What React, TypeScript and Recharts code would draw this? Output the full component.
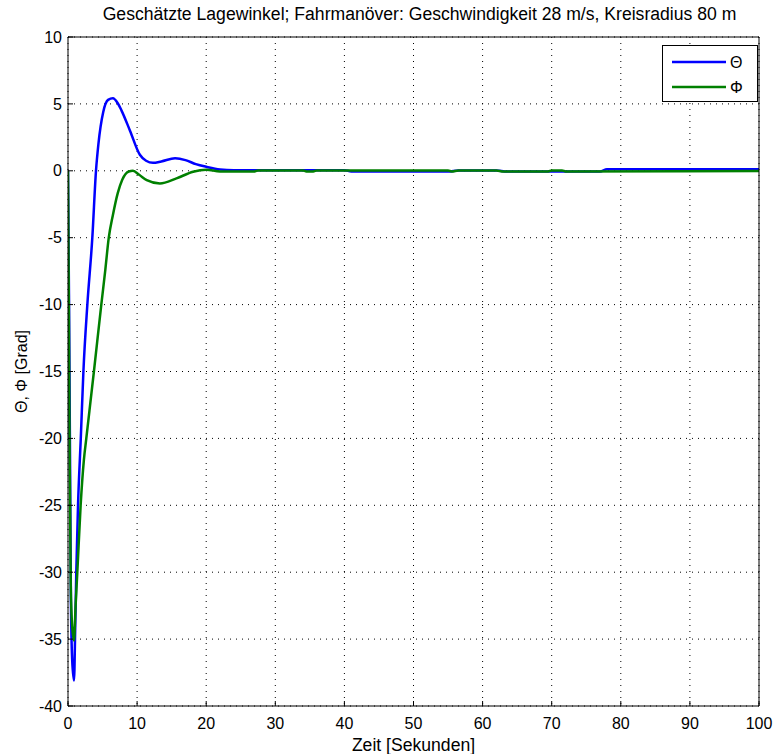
import { CartesianGrid, Label, Legend, Line, LineChart, XAxis, YAxis } from "recharts";

// estimated attitude angles, degrees over seconds
const thetaTime = [
  0, 0.15, 0.3, 0.42, 0.6, 0.87, 1.05, 1.2, 1.45, 1.85, 2.23, 2.8, 3.52, 4.05, 4.4, 5.1, 5.8, 6.5, 7.2, 7.75,
  8.97, 10.4, 11.3, 12.3, 13.5, 15.5, 17, 18.5, 20, 22, 24, 34, 40, 41, 55, 56.5, 62, 63.5, 77, 78, 100
];
const thetaDeg = [
  0, -10, -22, -32, -36.5, -38.1, -34, -30, -25, -20, -15, -10, -5, 0, 2.0, 4.4, 5.3, 5.42, 5.05, 4.5,
  3.0, 1.2, 0.75, 0.6, 0.7, 0.93, 0.8, 0.5, 0.3, 0.1, 0.05, 0.05, 0.05, -0.05, -0.05, 0.03, 0.03, -0.05, -0.05, 0.12, 0.12
];

const phiTime = [
  0, 0.12, 0.25, 0.4, 0.6, 0.87, 1.1, 1.35, 1.83, 2.3, 2.65, 3.75, 4.82, 5.4, 5.9, 6.5, 7.2, 7.85, 8.8, 9.4,
  10.3, 11.4, 13.3, 15.7, 18.1, 20, 22, 27, 27.5, 34, 34.5, 35.5, 36, 55, 55.5, 56.5, 62, 63, 69.5, 70, 71.5, 72, 100
];
const phiDeg = [
  0, -10, -22, -31, -34, -35.1, -32.5, -30, -25, -21.6, -20, -15, -10, -7.4, -5, -3.3, -1.67, -0.67, -0.05, 0,
  -0.3, -0.7, -0.95, -0.57, -0.07, 0.08, -0.05, -0.05, 0.03, 0.03, -0.05, -0.05, 0.03, 0.03, -0.05, 0.03, 0.03, -0.05, -0.05, 0.03, 0.03, -0.05, -0.02
];

const xTicks = [0, 10, 20, 30, 40, 50, 60, 70, 80, 90, 100];
const yTicks = [-40, -35, -30, -25, -20, -15, -10, -5, 0, 5, 10];

const thetaData = thetaTime.map((t, i) => ({ t, v: thetaDeg[i] }));
const phiData = phiTime.map((t, i) => ({ t, v: phiDeg[i] }));

const BLUE = "#0000ff";
const GREEN = "#008000";
const font = "'Liberation Sans', Arial, Helvetica, sans-serif";
const tickStyle = { fontSize: 16, fill: "#000" };

function LegendBox() {
  return (
    <div style={{ width: 96, height: 57, boxSizing: "border-box", border: "1px solid #000", background: "#fff" }}>
      <svg width={94} height={55} style={{ display: "block" }}>
        <line x1={9} x2={63} y1={16} y2={16} stroke={BLUE} strokeWidth={2.5} />
        <text x={67} y={22} fontSize={16} fontFamily={font}>Θ</text>
        <line x1={9} x2={63} y1={41} y2={41} stroke={GREEN} strokeWidth={2.5} />
        <text x={67} y={47} fontSize={16} fontFamily={font}>Φ</text>
      </svg>
    </div>
  );
}

export default function App() {
  return (
    <div style={{ position: "absolute", left: 0, top: 0, background: "#fff" }}>
      <LineChart width={776} height={754} margin={{ top: 36, right: 16, bottom: 0, left: 0 }} style={{ fontFamily: font }}>
        <CartesianGrid stroke="#000" strokeDasharray="1 5" />
        <XAxis
          dataKey="t"
          type="number"
          domain={[0, 100]}
          ticks={xTicks}
          allowDataOverflow
          height={48}
          tickSize={-5}
          tickMargin={17}
          stroke="#000"
          tick={tickStyle}
        >
          <Label value="Zeit [Sekunden]" position="insideBottom" offset={3} fill="#000" fontSize={17.6} />
        </XAxis>
        {/* top and right axes only give the box its inner tick marks */}
        <XAxis
          xAxisId="top"
          dataKey="t"
          orientation="top"
          type="number"
          domain={[0, 100]}
          ticks={xTicks}
          allowDataOverflow
          height={1}
          tickSize={-5}
          tick={false}
          stroke="#000"
        >
          <Label
            value="Geschätzte Lagewinkel; Fahrmanöver: Geschwindigkeit 28 m/s, Kreisradius 80 m"
            position="top"
            offset={16}
            dx={6}
            fill="#000"
            fontSize={17.6}
          />
        </XAxis>
        <YAxis
          type="number"
          domain={[-40, 10]}
          ticks={yTicks}
          allowDataOverflow
          width={68}
          tickSize={-5}
          tickMargin={11}
          stroke="#000"
          tick={tickStyle}
        >
          <Label value="Θ, Φ [Grad]" angle={-90} position="insideLeft" offset={21} fill="#000" fontSize={16} style={{ textAnchor: "middle" }} />
        </YAxis>
        <YAxis
          yAxisId="right"
          orientation="right"
          type="number"
          domain={[-40, 10]}
          ticks={yTicks}
          allowDataOverflow
          width={1}
          tickSize={-5}
          tick={false}
          stroke="#000"
        />
        <Line data={thetaData} dataKey="v" name="Θ" type="monotone" stroke={BLUE} strokeWidth={2.5} dot={false} isAnimationActive={false} />
        <Line
          data={phiData}
          dataKey="v"
          name="Φ"
          xAxisId="top"
          yAxisId="right"
          type="monotone"
          stroke={GREEN}
          strokeWidth={2.5}
          dot={false}
          isAnimationActive={false}
        />
        <Legend
          layout="horizontal"
          verticalAlign="middle"
          align="center"
          content={() => <LegendBox />}
          wrapperStyle={{ left: 662, top: 45, width: 96, height: 57 }}
        />
      </LineChart>
    </div>
  );
}
